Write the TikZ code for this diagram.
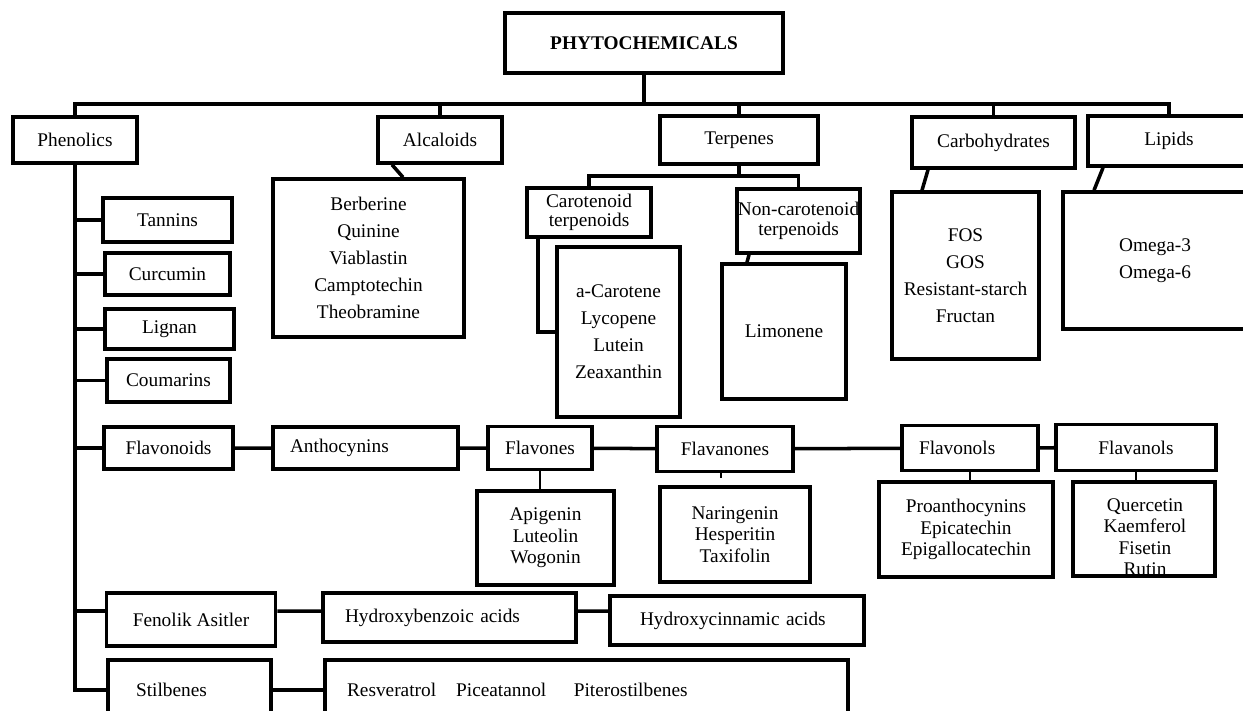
\documentclass[tikz,border=0pt]{standalone}
\usepackage{fontspec}
\setmainfont{Liberation Serif}
\begin{document}
\begin{tikzpicture}[x=0.02cm,y=-0.02cm,
    box/.style={draw,line width=2pt,inner sep=0pt,align=center,font=\fontsize{11}{13}\selectfont},
    sz/.style 2 args={minimum width=#1*0.02cm,minimum height=#2*0.02cm},
    link/.style={line width=2pt},
    fine/.style={line width=0.75pt},
    blist/.style={font=\fontsize{11}{15.3}\selectfont},
    flist/.style={font=\fontsize{11}{12.2}\selectfont}]
\useasboundingbox (0,0) rectangle (1243,710);
\node[box,sz={278}{60},font=\fontsize{11}{13}\selectfont\bfseries] (root) at (644,43) {PHYTOCHEMICALS};
\node[box,sz={124}{46}] (phen) at (75,140) {Phenolics};
\node[box,sz={124}{46}] (alc) at (440,140) {Alcaloids};
\node[box,sz={158}{48}] (terp) at (739,140) {Terpenes};
\node[box,sz={163}{51}] (carb) at (993.5,142.5) {Carbohydrates};
\node[box,sz={162}{50}] (lip) at (1169,141) {Lipids};
\node[box,blist,sz={191}{158}] (alcl) at (368.5,258) {Berberine\\Quinine\\Viablastin\\Camptotechin\\Theobramine};
\node[box,sz={124}{49},font=\fontsize{11}{10.8}\selectfont] (carot) at (589,212.5) {Carotenoid\\terpenoids};
\node[box,sz={123}{64},font=\fontsize{11}{11.3}\selectfont] (noncar) at (798.5,221) {Non-carotenoid\\terpenoids};
\node[box,blist,sz={123}{170}] (carl) at (618.5,332) {a-Carotene\\Lycopene\\Lutein\\Zeaxanthin};
\node[box,sz={124}{135}] (limo) at (784,331.5) {Limonene};
\node[box,blist,sz={147}{167}] (carbl) at (965.5,275.5) {FOS\\GOS\\Resistant-starch\\Fructan};
\node[box,blist,sz={184}{137}] (lipl) at (1155,260.5) {Omega-3\\Omega-6};
\node[box,sz={129}{44}] (tann) at (167.5,220) {Tannins};
\node[box,sz={125}{42}] (curc) at (167.5,274) {Curcumin};
\node[box,sz={129}{40}] (lign) at (169.5,329) {Lignan};
\node[box,sz={123}{43}] (coum) at (168.5,380.5) {Coumarins};
\node[box,sz={129}{42}] (flavd) at (168.5,448) {Flavonoids};
\node[box,sz={185}{42},align=left,inner xsep=0.34cm,text width=3.02cm] (antho) at (365.5,448) {Anthocynins};
\node[box,sz={104}{43}] (flavo) at (540,448) {Flavones};
\node[box,sz={136}{45}] (flavan) at (725,449) {Flavanones};
\node[box,sz={136}{45},align=left,inner xsep=0.34cm,text width=2.04cm] (flavol) at (970,448) {Flavonols};
\node[box,sz={160}{46}] (flavnl) at (1136,447.5) {Flavanols};
\node[box,flist,sz={137}{94}] (apig) at (545.5,538) {Apigenin\\Luteolin\\Wogonin};
\node[box,flist,sz={150}{95}] (narg) at (735,534.5) {Naringenin\\Hesperitin\\Taxifolin};
\node[box,flist,sz={174}{95}] (proa) at (966,529.5) {Proanthocynins\\Epicatechin\\Epigallocatechin};
\node[box,sz={142}{94}] (flvl) at (1144,529) {};
\node[flist,align=center] (flvn) at (1145,537) {Quercetin\\Kaemferol\\Fisetin\\Rutin};
\node[box,sz={169}{53}] (fenol) at (191,619.5) {Fenolik Asitler};
\node[box,sz={253}{49},align=left,inner xsep=0.44cm,text width=4.18cm] (hben) at (449.5,617.5) {Hydroxybenzoic acids};
\node[box,sz={254}{49},align=left,inner xsep=0.6cm,text width=3.88cm] (hcin) at (737,620.5) {Hydroxycinnamic acids};
\node[box,sz={163}{60},align=left,inner xsep=0.56cm,text width=2.14cm] (stil) at (189.5,690) {Stilbenes};
\node[box,sz={523}{60},align=left,inner xsep=0.44cm,text width=9.58cm] (resv) at (586.5,690) {Resveratrol\hspace{0.4cm}Piceatannol\hspace{0.55cm}Piterostilbenes};
\coordinate (bus) at (644,104);
\coordinate (tsplit) at (739,176);
\draw[link] (root) -- (bus);
\draw[link] (phen.north) |- (bus) -| (lip.north);
\foreach \n in {alc,terp,carb} \draw[link] (\n.north) -- (\n.north |- bus);
\draw[link] (terp.south) -- (tsplit);
\draw[link] (carot.north) |- (tsplit) -| (noncar.north);
\draw[link] ([xshift=-0.96cm]alc.south) -- ([xshift=0.69cm]alcl.north);
\draw[link] ([xshift=0.26cm]carot.south west) |- (carl.west);
\draw[link] ([xshift=-0.99cm]noncar.south) -- ([xshift=-0.74cm]limo.north);
\draw[link] ([xshift=-1.31cm]carb.south) -- ([xshift=-0.87cm]carbl.north);
\draw[link] ([xshift=-1.32cm]lip.south) -- ([xshift=-1.22cm]lipl.north);
\foreach \n in {tann,curc,lign,coum,flavd,stil} \draw[link] (phen.south) |- (\n.west);
\draw[link] (phen.south) |- ([yshift=0.17cm]fenol.west);
\draw[link] ([yshift=0.17cm]fenol.east) -- ([yshift=0.13cm]hben.west);
\draw[link] ([yshift=0.13cm]hben.east) -- ([yshift=0.19cm]hcin.west);
\draw[link] (stil) -- (resv);
\draw[link] (flavd) -- (antho) (antho) -- (flavo) (flavo) -- (flavan) (flavan) -- (flavol) (flavol) -- (flavnl);
\draw[fine] (flavo.south) -- (flavo.south |- apig.north);
\draw[fine] ([xshift=-0.08cm]flavan.south) -- ++(0,5);
\draw[fine] (flavol.south) -- (flavol.south |- proa.north);
\draw[fine] (flavnl.south) -- (flavnl.south |- flvl.north);
\end{tikzpicture}
\end{document}
